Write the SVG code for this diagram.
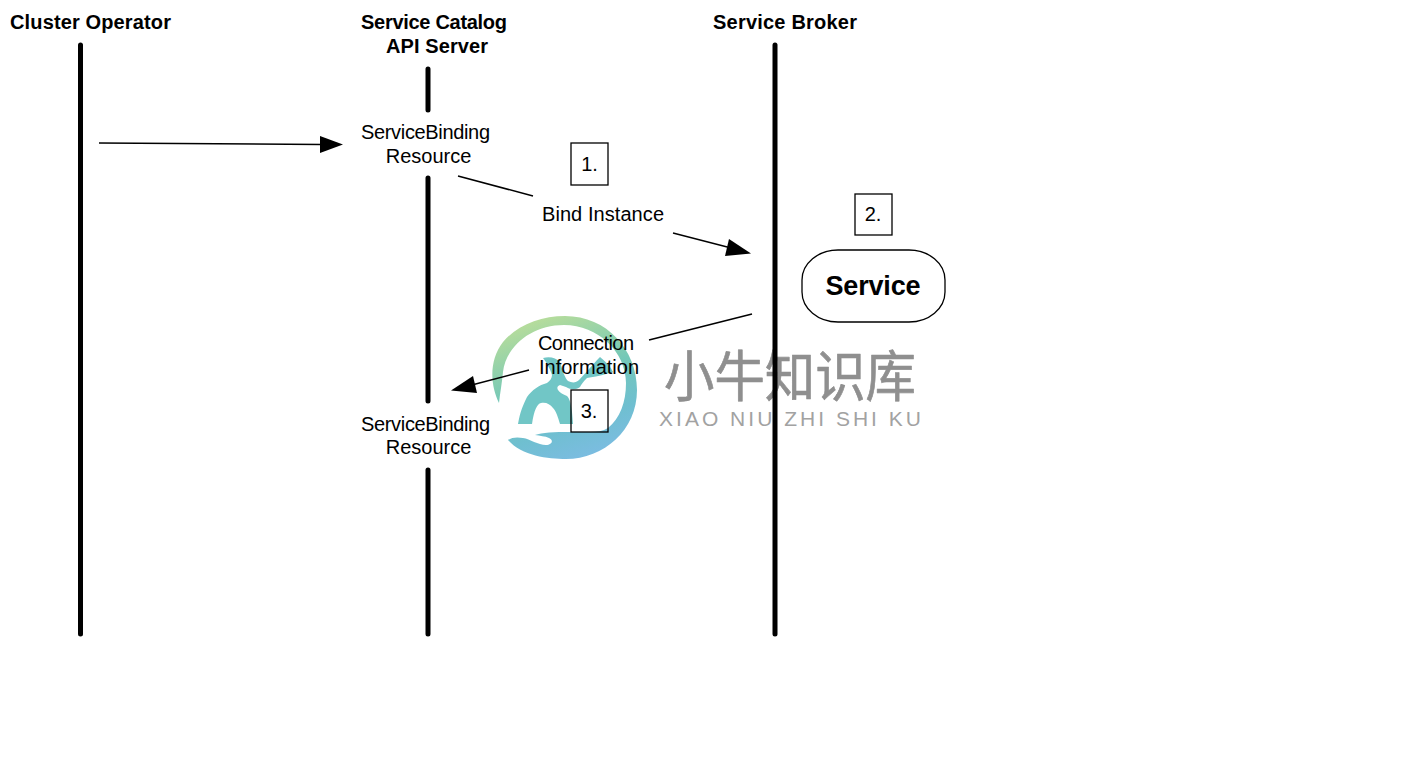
<svg xmlns="http://www.w3.org/2000/svg" width="1421" height="772" viewBox="0 0 1421 772">
<style>
text{font-family:"Liberation Sans",Arial,sans-serif;fill:#000;text-anchor:middle}
.h{font-size:20px;font-weight:bold}
.t{font-size:20px}
.life{stroke:#000;stroke-width:5;fill:none;stroke-linecap:round}
.c{stroke:#000;stroke-width:1.5;fill:none}
.box{fill:none;stroke:#000;stroke-width:1.3}
.wm{font-family:"Noto Sans CJK SC","Noto Sans",sans-serif;fill:#8f8f8f;stroke:#8f8f8f;stroke-width:.7;stroke-linejoin:round}
.wm2{font-family:"Liberation Sans",sans-serif;fill:#a2a2a2}
</style>
<defs>
<linearGradient id="ring" gradientUnits="userSpaceOnUse" x1="540" y1="316" x2="590" y2="459">
<stop offset="0" stop-color="#b8dd9a"/><stop offset="0.45" stop-color="#74c8b8"/><stop offset="0.75" stop-color="#6fbfd0"/><stop offset="1" stop-color="#7cbce2"/>
</linearGradient>
</defs>

<!-- brand mark behind the sequence -->
<g id="logo-mark">
<path fill="url(#ring)" d="M499 403C490 385 489 360 503 342C517 325 541 316 565 316C607 316 637 350 637 390C637 430 604 459 566 459C548 459 522 456 508 440C512 437 518 437 523 438C530 439 538 445 546 445C552 445 554 440 549 438C545 436 540 436 535 435C545 431 570 432 590 432C597 432 603 431 608 428C620 418 626 402 626 383C626 352 598 325 564 325C532 325 506 346 503 372C502 383 500 393 499 403Z"/>
<path fill="#71c6c6" d="M518 424C520 412 523 405 527 397C532 390 539 385 547 383C550 381 552 378 552 375C550 368 546 362 543 358C550 356 556 358 560 362C563 372 565 378 568 381C572 383 576 383 579 380C585 374 592 365 600 357C606 362 611 367 613 372C604 375 594 377 587 378C583 382 581 385 580 387C576 390 571 390 566 387L560 385C557 386 557 388 558 390C560 393 563 394 567 396C570 399 571 405 572 412L573 424L560 424C558 417 556 411 553 408C550 404 546 402 541 403C537 404 534 410 532 424Z"/>
</g>
<g id="logo-text">
<text class="wm" x="790" y="396" font-size="55" textLength="252" lengthAdjust="spacingAndGlyphs">小牛知识库</text>
<text class="wm2" x="790" y="426" font-size="21" textLength="262" lengthAdjust="spacing">XIAO NIU ZHI SHI KU</text>
</g>

<g id="connectors">
<path class="c" d="M99 143L322 144.500" />
<path d="M343 144.500L320 136V153Z" fill="#000"/>
<path class="c" d="M458 176L533 196"/>
<path class="c" d="M673 233L735 249" />
<path d="M751 253.500L729 239L725 256Z" fill="#000"/>
<path class="c" d="M752 314L649 340"/>
<path class="c" d="M529 370L468 386" />
<path d="M451 390.500L473 376L477 393Z" fill="#000"/>
</g>

<g id="cluster-operator">
<text class="h" x="90.500" y="29" textLength="161">Cluster Operator</text>
<path class="life" d="M80.500 45V634"/>
</g>
<g id="service-catalog">
<text class="h" x="434" y="29" textLength="146">Service Catalog</text>
<text class="h" x="437" y="53" textLength="102">API Server</text>
<path class="life" d="M428 69V110M428 178V401M428 470V634"/>
</g>
<g id="service-broker">
<text class="h" x="785" y="29" textLength="144">Service Broker</text>
<path class="life" d="M775 45V634"/>
</g>
<g id="binding-resource-1">
<text class="t" x="425.500" y="139" textLength="129">ServiceBinding</text>
<text class="t" x="428.500" y="163">Resource</text>
</g>
<g id="binding-resource-2">
<text class="t" x="425.500" y="431" textLength="129">ServiceBinding</text>
<text class="t" x="428.500" y="454">Resource</text>
</g>
<g id="bind-instance">
<text class="t" x="603" y="221" textLength="122">Bind Instance</text>
</g>
<g id="connection-information">
<text class="t" x="586" y="350" textLength="96">Connection</text>
<text class="t" x="589" y="374">Information</text>
</g>
<g id="step-1">
<rect class="box" x="571" y="143" width="37" height="42"/>
<text class="t" x="589.500" y="171">1.</text>
</g>
<g id="step-2">
<rect class="box" x="855" y="194" width="37" height="41"/>
<text class="t" x="873" y="221">2.</text>
</g>
<g id="step-3">
<rect class="box" x="571" y="390" width="37" height="42"/>
<text class="t" x="589" y="418">3.</text>
</g>
<g id="service">
<rect x="802" y="250" width="143" height="72" rx="36" ry="30" fill="#fff" stroke="#000" stroke-width="1.300"/>
<text x="873" y="295" font-size="27" font-weight="bold" textLength="95">Service</text>
</g>
</svg>
